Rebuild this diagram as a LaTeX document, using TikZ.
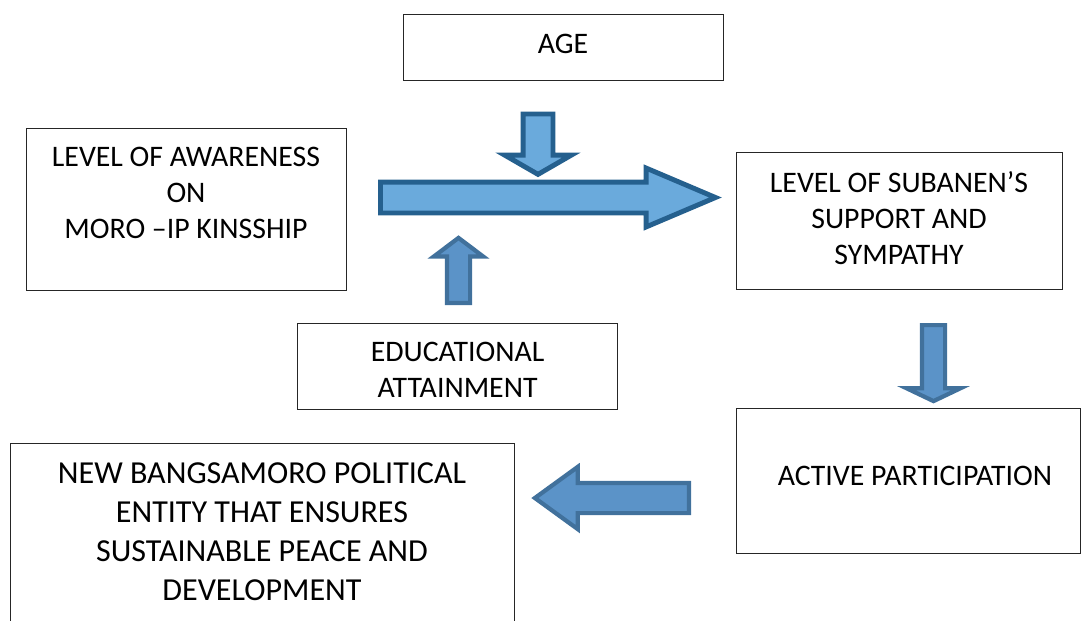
\documentclass[tikz,border=0pt]{standalone}
\usepackage{fontspec}
\setmainfont{Carlito}
\usetikzlibrary{shapes.arrows}

\definecolor{arrowfill}{RGB}{106,170,220}
\definecolor{arrowline}{RGB}{37,96,142}
\definecolor{arrowfilltwo}{RGB}{91,147,200}
\definecolor{arrowlinetwo}{RGB}{65,113,156}

\tikzset{
  box/.style={draw=black!85, line width=0.7pt, inner sep=0pt},
  boxtext/.style={align=center, inner sep=0pt, font=\fontsize{21.2}{25.6}\selectfont},
  bigarrow/.style={single arrow, draw=arrowline, fill=arrowfill, line width=3.5pt,
    inner xsep=0pt, anchor=tail},
  smallarrow/.style={single arrow, draw=arrowlinetwo, fill=arrowfilltwo, line width=3pt,
    inner xsep=0pt, anchor=tail}
}

\begin{document}
\begin{tikzpicture}
  \useasboundingbox (0,0) rectangle (27.025,-15.5);

  % boxes
  \node[box, minimum width=8cm, minimum height=1.65cm] (age) at (14.075,-1.175) {};
  \node[boxtext] (agetext) at (14.075,-1.1) {AGE};
  \node[box, minimum width=8cm, minimum height=4.05cm] (aware) at (4.65,-5.225) {};
  \node[boxtext] (awaretext) at (4.65,-4.825) {LEVEL OF AWARENESS\\ON\\MORO –IP KINSSHIP};
  \node[box, minimum width=8.15cm, minimum height=3.425cm] (support) at (22.475,-5.5125) {};
  \node[boxtext] (supporttext) at (22.475,-5.45) {LEVEL OF SUBANEN’S\\SUPPORT AND\\SYMPATHY};
  \node[box, minimum width=8cm, minimum height=2.15cm] (edu) at (11.425,-9.15) {};
  \node[boxtext] (edutext) at (11.44,-9.25) {EDUCATIONAL\\ATTAINMENT};
  \node[box, minimum width=8.6cm, minimum height=3.625cm] (active) at (22.7,-12.0125) {};
  \node[boxtext] (activetext) at (22.875,-11.9) {ACTIVE PARTICIPATION};
  \node[box, minimum width=12.6cm, minimum height=4.45cm] (entity) at (6.55,-13.3) {};
  \node[boxtext, font=\fontsize{22.8}{27.7}\selectfont] (entitytext) at (6.55,-13.3)
    {NEW BANGSAMORO POLITICAL\\ENTITY THAT ENSURES\\SUSTAINABLE PEACE AND\\DEVELOPMENT};

  % block arrows
  \node[bigarrow, minimum height=8.375cm, inner ysep=0.325cm,
    single arrow head extend=0.35cm, single arrow tip angle=46] (awaretosupport) at (9.45,-4.9375) {};
  \node[bigarrow, rotate=-90, minimum height=1.51cm, inner ysep=0.3125cm,
    single arrow head extend=0.4625cm, single arrow tip angle=120] (agedown) at (13.45,-2.7875) {};
  \node[smallarrow, rotate=90, minimum height=1.625cm, inner ysep=0.2375cm,
    single arrow head extend=0.325cm, single arrow tip angle=106] (eduup) at (11.4625,-7.625) {};
  \node[smallarrow, rotate=-90, minimum height=1.9cm, inner ysep=0.2375cm,
    single arrow head extend=0.3875cm, single arrow tip angle=129] (supportdown) at (23.3375,-8.075) {};
  \node[smallarrow, rotate=180, minimum height=3.85cm, inner ysep=0.325cm,
    single arrow head extend=0.4cm, single arrow tip angle=72] (activeleft) at (17.275,-12.45) {};
\end{tikzpicture}
\end{document}
